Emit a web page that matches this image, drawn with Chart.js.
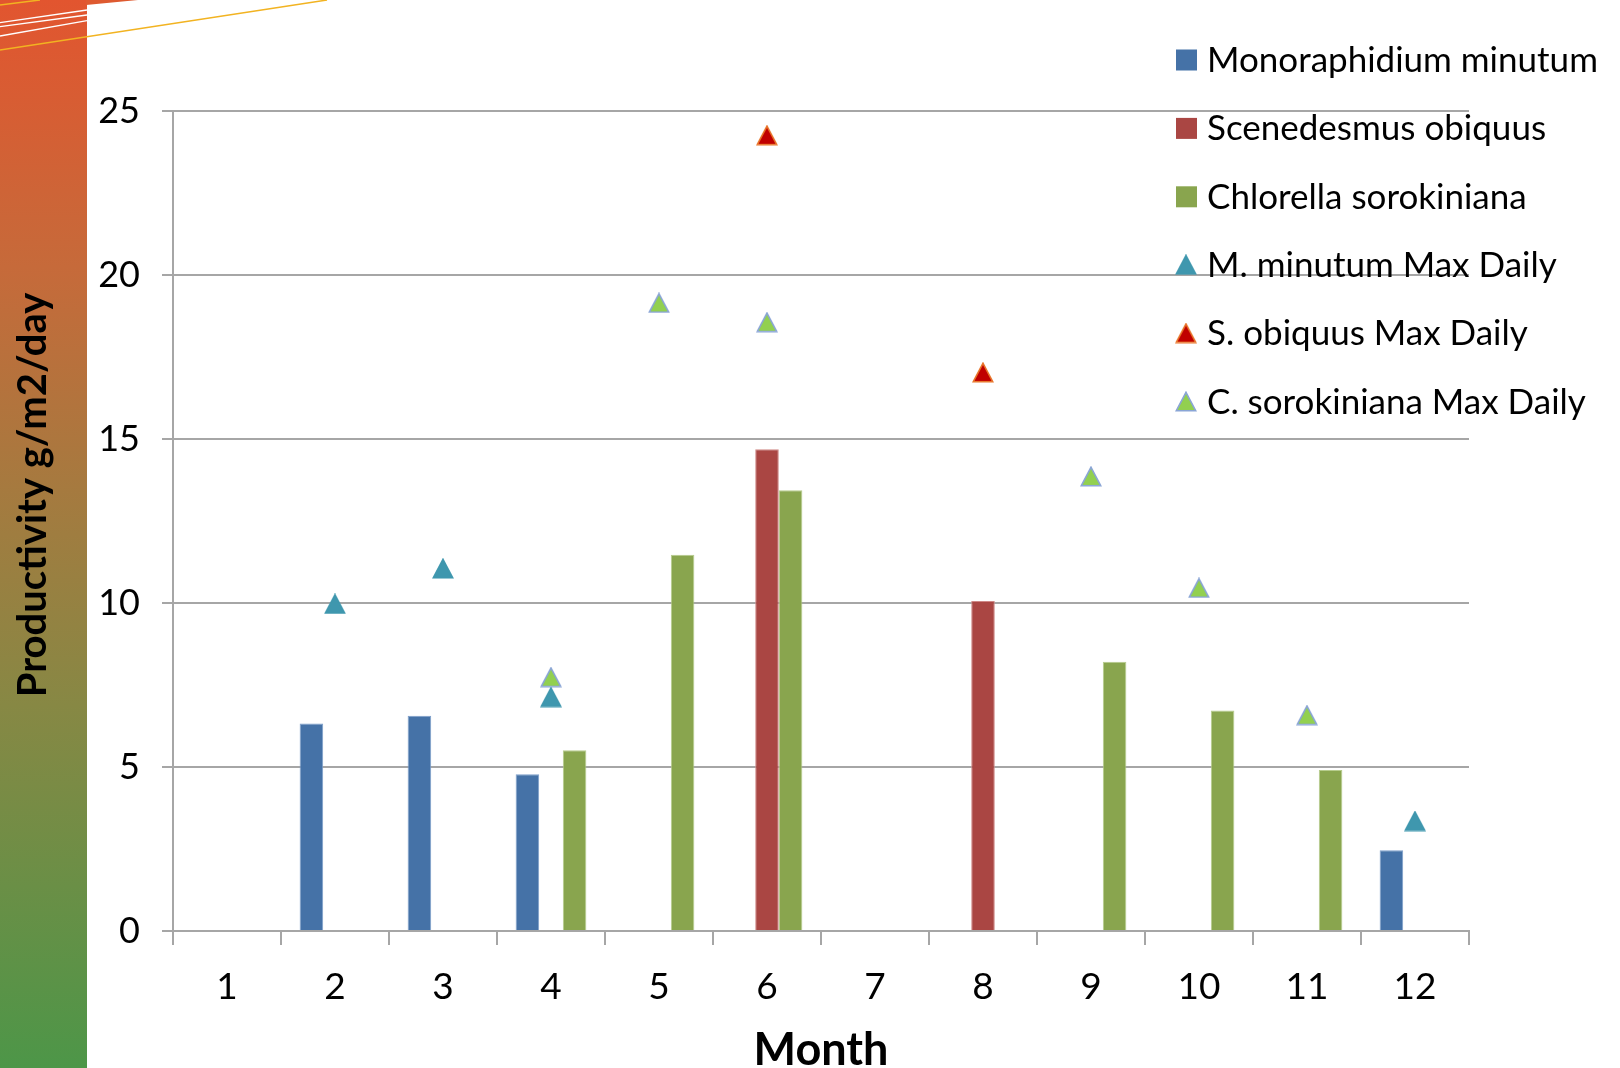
<!DOCTYPE html>
<html>
<head>
<meta charset="utf-8">
<title>Productivity by month</title>
<script src="https://cdn.jsdelivr.net/npm/chart.js@4.4.0/dist/chart.umd.min.js"></script>
<style>
  html, body { margin: 0; padding: 0; background: #fff; }
  #wrap { position: relative; width: 1620px; height: 1068px; }
</style>
</head>
<body>
<div id="wrap"><canvas id="productivityChart" width="1620" height="1068"></canvas></div>
<script>
// categories
const months = ['1', '2', '3', '4', '5', '6', '7', '8', '9', '10', '11', '12'];

// monthly average productivity g/m2/day (bars)
const monoraphidium = [null, 6.33, 6.56, 4.78, null, null, null, null, null, null, null, 2.46];
const scenedesmus = [null, null, null, null, null, 14.69, null, 10.06, null, null, null, null];
const chlorella = [null, null, null, 5.51, 11.47, 13.44, null, null, 8.21, 6.72, 4.91, null];

// max daily productivity (triangles)
const mMinutumMax = [null, 9.97, 11.05, 7.13, null, null, null, null, null, null, null, 3.35];
const sObiquusMax = [null, null, null, null, null, 24.26, null, 17.03, null, null, null, null];
const cSorokinianaMax = [null, null, null, 7.74, 19.15, 18.56, null, null, 13.86, 10.46, 6.58, null];

// y axis ticks
const yTicks = [0, 5, 10, 15, 20, 25];

const FONT = 'Lato, "Open Sans", sans-serif';
const gridColor = '#A6A6A6';

// excel-like triangle markers, drawn once into small canvases
function triangleMarker(fill, stroke) {
    const c = document.createElement('canvas');
    c.width = 22;
    c.height = 21;
    const g = c.getContext('2d');
    g.beginPath();
    g.moveTo(11, 1.3);
    g.lineTo(20.7, 19.7);
    g.lineTo(1.3, 19.7);
    g.closePath();
    g.fillStyle = fill;
    g.fill();
    g.lineWidth = 1.6;
    g.strokeStyle = stroke;
    g.stroke();
    return c;
}

const mMarker = triangleMarker('#3F97AE', '#3F97AE');
const sMarker = triangleMarker('#C00000', '#E8752A');
const cMarker = triangleMarker('#92D050', '#8AA5D6');

// background band, y title and legend
const decorPlugin = {
    id: 'decor',
    beforeDraw(chart) {
        const ctx = chart.ctx;
        ctx.save();
        const grad = ctx.createLinearGradient(0, 0, 0, chart.height);
        grad.addColorStop(0, '#E2552F');
        grad.addColorStop(0.25, '#C66A3A');
        grad.addColorStop(0.5, '#9F7D40');
        grad.addColorStop(0.66, '#878844');
        grad.addColorStop(1, '#4D9648');
        ctx.fillStyle = grad;
        ctx.fillRect(0, 0, 87, chart.height);

        // swoosh at the top left
        ctx.fillStyle = '#DE5A30';
        ctx.beginPath();
        ctx.moveTo(86, 0);
        ctx.lineTo(138, 0);
        ctx.lineTo(86, 5);
        ctx.closePath();
        ctx.fill();

        ctx.strokeStyle = '#FFFFFF';
        ctx.lineWidth = 1.3;
        [[22.7, 10], [26.7, 15], [36, 20.7]].forEach(([y0, y1]) => {
            ctx.beginPath();
            ctx.moveTo(0, y0);
            ctx.lineTo(87, y1);
            ctx.stroke();
        });
        ctx.strokeStyle = '#F2B321';
        ctx.lineWidth = 1.5;
        ctx.beginPath();
        ctx.moveTo(0, 50);
        ctx.lineTo(327, 0);
        ctx.stroke();
        ctx.beginPath();
        ctx.moveTo(0, 5);
        ctx.lineTo(40, 0);
        ctx.stroke();
        ctx.restore();
    },
    afterDraw(chart) {
        const ctx = chart.ctx;
        ctx.save();

        // y axis title
        ctx.translate(33, 495);
        ctx.rotate(-Math.PI / 2);
        ctx.font = 'bold 40px ' + FONT;
        ctx.fillStyle = '#000';
        ctx.textAlign = 'center';
        ctx.textBaseline = 'middle';
        ctx.fillText('Productivity g/m2/day', 0, 0);
        ctx.setTransform(1, 0, 0, 1, 0, 0);

        // legend
        ctx.font = '35px ' + FONT;
        ctx.textAlign = 'left';
        chart.data.datasets.forEach((ds, i) => {
            const y = 59.5 + i * 68.4;
            if (ds.type === 'line') {
                const img = ds.pointStyle;
                ctx.drawImage(img, 1186 - img.width / 2, y - img.height / 2);
            } else {
                ctx.fillStyle = ds.backgroundColor;
                ctx.fillRect(1176, y - 10, 21, 21);
            }
            ctx.fillStyle = '#000';
            ctx.fillText(ds.label, 1207, y + 1);
        });
        ctx.restore();
    }
};

const ctx = document.getElementById('productivityChart').getContext('2d');

new Chart(ctx, {
    type: 'bar',
    data: {
        labels: months,
        datasets: [
            { label: 'Monoraphidium minutum', data: monoraphidium, backgroundColor: '#4572A7', borderColor: '#7D9ECB', borderWidth: 1, order: 1 },
            { label: 'Scenedesmus obiquus', data: scenedesmus, backgroundColor: '#AA4643', borderColor: '#CF8886', borderWidth: 1, order: 1 },
            { label: 'Chlorella sorokiniana', data: chlorella, backgroundColor: '#89A54E', borderColor: '#B6CC8C', borderWidth: 1, order: 1 },
            { type: 'line', label: 'M. minutum Max Daily', data: mMinutumMax, showLine: false, pointStyle: mMarker, pointRadius: 10, order: 0 },
            { type: 'line', label: 'S. obiquus Max Daily', data: sObiquusMax, showLine: false, pointStyle: sMarker, pointRadius: 10, order: 0 },
            { type: 'line', label: 'C. sorokiniana Max Daily', data: cSorokinianaMax, showLine: false, pointStyle: cMarker, pointRadius: 10, order: 0 }
        ]
    },
    options: {
        responsive: false,
        animation: false,
        layout: { padding: { left: 0, top: 111, right: 151, bottom: 0 } },
        datasets: {
            bar: { categoryPercentage: 0.655, barPercentage: 1.0 }
        },
        plugins: {
            legend: { display: false },
            tooltip: { enabled: false }
        },
        scales: {
            x: {
                offset: true,
                grid: { offset: true, drawOnChartArea: false, drawTicks: true, tickLength: 14, color: gridColor, lineWidth: 2 },
                border: { display: true, color: gridColor, width: 2 },
                ticks: { font: { family: FONT, size: 37 }, color: '#000', padding: 20, maxRotation: 0, autoSkip: false },
                title: { display: true, text: 'Month', font: { family: FONT, size: 45, weight: 'bold', lineHeight: 0.8 }, color: '#000', padding: { top: 0, bottom: 0 } },
                afterFit: (axis) => { axis.height = 137; }
            },
            y: {
                min: yTicks[0],
                max: yTicks[yTicks.length - 1],
                ticks: { stepSize: yTicks[1] - yTicks[0], font: { family: FONT, size: 36 }, color: '#000', padding: 22 },
                grid: { color: gridColor, lineWidth: 2, tickLength: 11, drawTicks: true },
                border: { display: true, color: gridColor, width: 2 },
                afterFit: (axis) => { axis.width = 173; }
            }
        }
    },
    plugins: [decorPlugin]
});
</script>
</body>
</html>
